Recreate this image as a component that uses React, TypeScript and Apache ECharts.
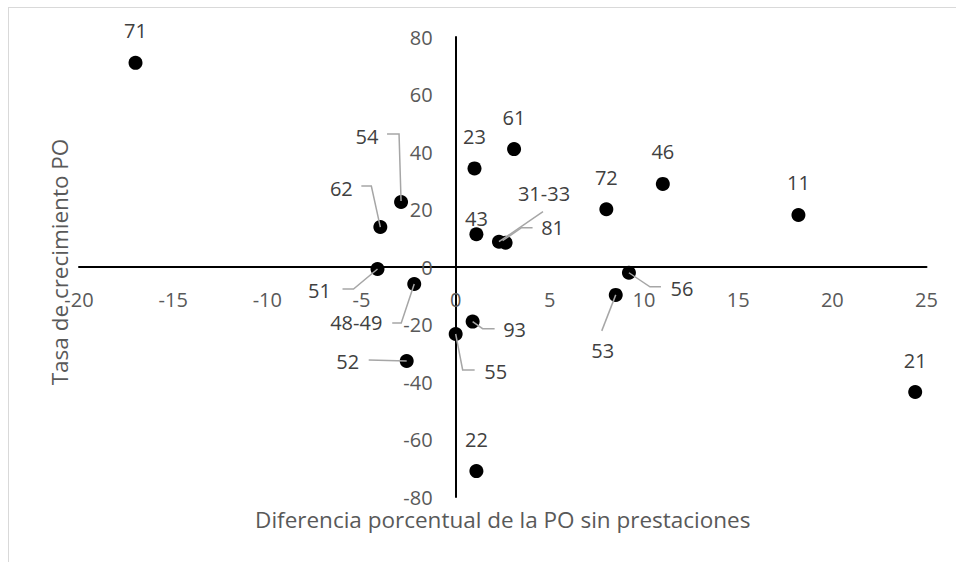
import React, { useEffect, useRef } from "react";
import * as echarts from "echarts";

// ---- data ----
const pointNames = ["71", "54", "62", "23", "61", "43", "31-33", "81", "72", "46", "11", "56", "53", "51", "48-49", "93", "55", "52", "22", "21"];
const xValues = [-17.0, -2.9, -4.0, 1.0, 3.1, 1.1, 2.3, 2.65, 8.0, 11.0, 18.2, 9.2, 8.5, -4.15, -2.2, 0.9, 0.0, -2.6, 1.1, 24.4];
const yValues = [71.0, 22.6, 13.9, 34.3, 41.0, 11.4, 8.8, 8.45, 20.1, 28.9, 18.1, -2.0, -9.7, -0.7, -5.9, -19.0, -23.3, -32.7, -71.0, -43.5];
const xRange = { min: -20, max: 25, step: 5 };
const yRange = { min: -80, max: 80, step: 20 };
const xTitle = "Diferencia porcentual de la PO sin prestaciones";
const yTitle = "Tasa de crecimiento PO";

// ---- label layout (pixel offsets relative to the marker) ----
const defaultLabelOffset: [number, number] = [0, -32];
const labelOffsets: Record<string, [number, number]> = {
  "43": [0, -16],
  "54": [-34, -66],
  "62": [-39, -39],
  "31-33": [45, -48],
  "81": [47, -15],
  "56": [53, 16],
  "53": [-13, 56],
  "51": [-58, 21],
  "48-49": [-58, 39],
  "93": [42, 8],
  "55": [40, 38],
  "52": [-59, 0],
};
const leaderLines: Record<string, number[][]> = {
  "54": [[0, -1], [-2, -68], [-14, -68]],
  "62": [[0, 0], [-9, -41], [-19, -41]],
  "31-33": [[0, 0], [44, -30]],
  "81": [[-3, -2], [16, -15], [27, -15]],
  "56": [[0, 0], [21, 14], [32, 14]],
  "53": [[0, 0], [-14, 36]],
  "51": [[0, 0], [-24, 20], [-35, 20]],
  "48-49": [[0, 0], [-13, 39], [-22, 39]],
  "93": [[0, 0], [10, 7], [22, 7]],
  "55": [[0, 0], [7, 36], [19, 36]],
  "52": [[0, 0], [-38, -1]],
};

const FONT = "'Open Sans', 'Liberation Sans', sans-serif";
const TICK_COLOR = "#595959";
const LABEL_COLOR = "#404040";

export default function App() {
  const ref = useRef<HTMLDivElement>(null);

  useEffect(() => {
    if (!ref.current) return;
    const chart = echarts.init(ref.current, undefined, { renderer: "svg" });

    const gridLeft = 70;
    const gridTop = 29;
    const gridWidth = 847.5;
    const gridHeight = 460;
    // place axes (line + labels) through the origin
    const xAxisShift = -gridHeight * (yRange.max / (yRange.max - yRange.min));
    const yAxisShift = -gridWidth * ((0 - xRange.min) / (xRange.max - xRange.min));

    const scatterData = pointNames.map((n, i) => ({
      name: n,
      value: [xValues[i], yValues[i]],
      label: { offset: labelOffsets[n] || defaultLabelOffset },
    }));

    chart.setOption({
      animation: false,
      backgroundColor: "#ffffff",
      grid: { left: gridLeft, top: gridTop, width: gridWidth, height: gridHeight, containLabel: false },
      xAxis: {
        type: "value",
        position: "bottom",
        offset: xAxisShift,
        min: xRange.min,
        max: xRange.max,
        interval: xRange.step,
        axisLine: { show: true, onZero: false, lineStyle: { color: "#000000", width: 2 } },
        axisTick: { show: false },
        splitLine: { show: false },
        axisLabel: { color: TICK_COLOR, fontSize: 20, fontFamily: FONT, margin: 22 },
      },
      yAxis: {
        type: "value",
        position: "left",
        offset: yAxisShift,
        min: yRange.min,
        max: yRange.max,
        interval: yRange.step,
        axisLine: { show: true, onZero: false, lineStyle: { color: "#000000", width: 2 } },
        axisTick: { show: false },
        splitLine: { show: false },
        axisLabel: { color: TICK_COLOR, fontSize: 20, fontFamily: FONT, margin: 23 },
      },
      graphic: [
        {
          type: "text",
          x: gridLeft + gridWidth / 2,
          y: 511,
          style: {
            text: xTitle,
            fill: TICK_COLOR,
            font: `22.5px ${FONT}`,
            align: "center",
            verticalAlign: "middle",
          },
        },
        {
          type: "text",
          x: 50,
          y: 254,
          rotation: Math.PI / 2,
          style: {
            text: yTitle,
            fill: TICK_COLOR,
            font: `22.5px ${FONT}`,
            align: "center",
            verticalAlign: "middle",
          },
        },
      ],
      series: [
        {
          type: "scatter",
          symbol: "circle",
          symbolSize: 14,
          itemStyle: { color: "#000000", opacity: 1 },
          z: 2,
          label: {
            show: true,
            position: "inside",
            formatter: "{b}",
            color: LABEL_COLOR,
            fontSize: 20,
            fontFamily: FONT,
            align: "center",
            verticalAlign: "middle",
          },
          emphasis: { disabled: true },
          data: scatterData,
        },
        {
          type: "custom",
          coordinateSystem: "cartesian2d",
          z: 3,
          silent: true,
          encode: { x: 0, y: 1 },
          data: pointNames.map((n, i) => [xValues[i], yValues[i]]),
          renderItem: (params: any, api: any) => {
            const n = pointNames[params.dataIndex];
            const path = leaderLines[n];
            if (!path) return { type: "group", children: [] };
            const c = api.coord([api.value(0), api.value(1)]);
            return {
              type: "polyline",
              shape: { points: path.map((p) => [c[0] + p[0], c[1] + p[1]]) },
              style: { stroke: "#a6a6a6", lineWidth: 1.5, fill: null },
            };
          },
        },
      ],
    });

    return () => chart.dispose();
  }, []);

  return (
    <div
      style={{
        position: "absolute",
        left: 8,
        top: 7,
        width: 948,
        height: 555,
        boxSizing: "border-box",
        borderTop: "1px solid #d9d9d9",
        borderLeft: "1px solid #d9d9d9",
        background: "#ffffff",
      }}
    >
      <div ref={ref} style={{ width: 947, height: 554 }} />
    </div>
  );
}
